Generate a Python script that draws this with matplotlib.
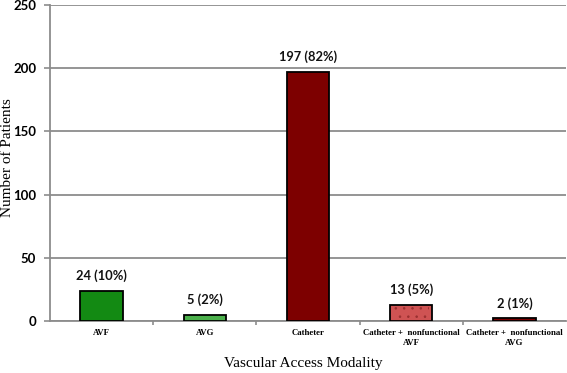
import matplotlib
matplotlib.use("Agg")
import matplotlib.pyplot as plt
import numpy as np

categories = ["AVF", "AVG", "Catheter", "Catheter +  nonfunctional\nAVF", "Catheter +  nonfunctional\nAVG"]
patients = [24, 5, 197, 13, 2]
value_labels = ["24 (10%)", "5 (2%)", "197 (82%)", "13 (5%)", "2 (1%)"]
bar_colors = ["#138a13", "#4bb04b", "#7d0000", "#cf5353", "#7d0000"]
y_ticks = [0, 50, 100, 150, 200, 250]

plt.rcParams["hatch.linewidth"] = 0.6

fig = plt.figure(figsize=(5.67, 3.73), dpi=100)
ax = fig.add_axes([50/567, 52/373, 516/567, 316/373])

x = np.arange(len(categories))
ax.set_axisbelow(True)
ax.yaxis.grid(True, color="#8c8c8c", linewidth=1.3)
bars = ax.bar(x, patients, width=0.41, color=bar_colors, edgecolor="black", linewidth=1.3, zorder=3)
# dotted texture on the "Catheter + nonfunctional AVF" bar
ax.bar(x[3], patients[3], width=0.34, color="none", edgecolor="#9a3030", linewidth=0, hatch="..", zorder=4)

for xi, v, lab in zip(x, patients, value_labels):
    ax.text(xi, v + 7, lab, ha="center", va="bottom", fontsize=9.3, fontweight="bold",
            family=["Lato", "DejaVu Sans"], color="#111111")

ax.set_xlim(-0.5, len(categories) - 0.5)
ax.set_ylim(0, 250)
ax.set_yticks(y_ticks)
ax.set_yticklabels([str(t) for t in y_ticks], fontsize=9.5, fontweight="bold", family=["Lato", "DejaVu Sans"])
ax.set_xticks(x)
ax.set_xticklabels(categories, fontsize=6.3, fontweight="bold", family=["Liberation Serif", "DejaVu Serif"], linespacing=1.3)
ax.set_xticks(np.arange(len(categories) - 1) + 0.5, minor=True)
ax.tick_params(axis="x", which="major", length=0, pad=6)
ax.tick_params(axis="x", which="minor", length=3, color="#8c8c8c", width=1.2)
ax.tick_params(axis="y", length=4, color="#8c8c8c", width=1.2, pad=6)

for s in ["top", "right"]:
    ax.spines[s].set_visible(False)
for s in ["left", "bottom"]:
    ax.spines[s].set_color("#8c8c8c")
    ax.spines[s].set_linewidth(1.3)

ax.set_ylabel("Number of Patients", fontsize=11, family=["Liberation Serif", "DejaVu Serif"], va="center")
ax.yaxis.set_label_coords(-0.083, 0.516)
ax.set_xlabel("Vascular Access Modality", fontsize=11, family=["Liberation Serif", "DejaVu Serif"], va="center")
ax.xaxis.set_label_coords(0.49, -0.133)

fig.savefig("out.png", dpi=100)
